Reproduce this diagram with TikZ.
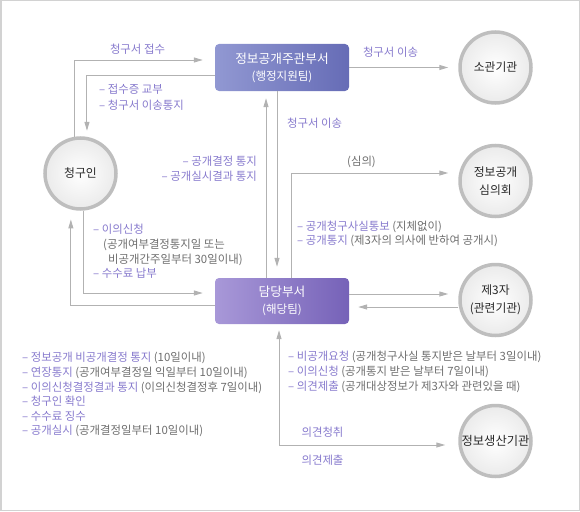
\documentclass[tikz,border=0pt]{standalone}
\usepackage{fontspec}
\setmainfont{Noto Sans CJK KR}
\usepackage{tikz}
\usetikzlibrary{arrows.meta,positioning,calc}
\definecolor{linegray}{RGB}{178,178,178}
\definecolor{labpurple}{RGB}{135,122,205}
\definecolor{labgray}{RGB}{110,110,110}
\definecolor{ringgray}{RGB}{190,190,190}
\definecolor{framegray}{RGB}{210,210,210}
\definecolor{mgrleft}{RGB}{145,152,210}
\definecolor{mgrright}{RGB}{102,108,182}
\definecolor{deptleft}{RGB}{168,152,216}
\definecolor{deptright}{RGB}{118,98,184}
\definecolor{nodetext}{RGB}{40,40,40}
\newcommand{\hlg}[1]{\textcolor{labgray}{#1}}

\begin{document}
\begin{tikzpicture}[
  x=1pt,y=-1pt,
  office/.style={rectangle,rounded corners=4pt,minimum width=134pt,minimum height=47pt,
                 align=center,text=white,font=\fontsize{12.7}{17}\selectfont},
  party/.style={circle,draw=ringgray,line width=3.5pt,minimum size=71pt,inner sep=0pt,
                inner color=white,outer color=gray!16,align=center,text=nodetext,
                font=\fontsize{11.8}{17.6}\selectfont},
  arrow/.style={-{Triangle[length=9pt,width=5pt]},linegray,line width=1pt},
  biarrow/.style={{Triangle[length=9pt,width=5pt]}-{Triangle[length=9pt,width=5pt]},linegray,line width=1pt},
  lab/.style={font=\fontsize{11.4}{14.6}\selectfont,inner sep=0pt,align=left,text=labpurple},
]
\useasboundingbox (0,0) rectangle (580,511);
\draw[framegray,line width=1.5pt] (0.75,0.75) rectangle (579.25,510.25);

% offices
\node[office,left color=mgrleft,right color=mgrright] (mgr) at (282,67.5)
  {정보공개주관부서\\{\fontsize{11.5}{17}\selectfont(행정지원팀)}};
\node[office,left color=deptleft,right color=deptright,minimum height=46pt] (dept) at (282,301)
  {담당부서\\{\fontsize{11.5}{17}\selectfont(해당팀)}};

% parties
\node[party] (req)   at (80.5,173.5) {청구인};
\node[party] (org)   at (495.5,67.5) {소관기관};
\node[party] (cmte)  at (495.5,181)  {정보공개\\심의회};
\node[party] (third) at (495.5,300)  {제3자\\(관련기관)};
\node[party,font=\fontsize{12.3}{17}\selectfont] (prod) at (495.5,441) {정보생산기관};

% connectors
\draw[arrow,shorten >=12pt] (req.100) |- ([yshift=7.5pt]mgr.west);
\draw[arrow,shorten >=6pt]  ([yshift=-7.5pt]mgr.west) -| (req.80);
\draw[arrow,shorten >=10pt] (mgr.east) -- (org.west);
\draw[arrow,shorten >=7pt]  ([xshift=-16pt]dept.north) -- ([xshift=-16pt]mgr.south);
\draw[arrow,shorten >=11pt] ([xshift=-5pt]mgr.south) -- ([xshift=-5pt]dept.north);
\draw[arrow,shorten >=10pt] ([xshift=9pt]dept.north) |- ([yshift=8pt]cmte.west);
\draw[arrow,shorten >=10pt] ([yshift=7pt]dept.east) -- ([yshift=6pt]third.west);
\draw[arrow,shorten >=9pt]  ([yshift=-7pt]third.west) -- ([yshift=-6pt]dept.east);
\draw[arrow,shorten >=12pt] (req.275) |- ([yshift=8pt]dept.west);
\draw[arrow,shorten >=10pt] ([yshift=-4pt]dept.west) -| (req.255);
\draw[biarrow,shorten <=6pt,shorten >=13pt] ([xshift=-3pt]dept.south) |- ([yshift=-4pt]prod.west);

% labels
\node[lab] (lbrecv) at (137.5,49) {청구서 접수};
\node[lab,anchor=west,font=\fontsize{11.4}{15.7}\selectfont] (lbissue) at (99,97)
  {– 접수증 교부\\– 청구서 이송통지};
\node[lab] (lbxfer) at (390.5,52) {청구서 이송};
\node[lab,anchor=west] (lbxferdown) at (287,123) {청구서 이송};
\node[lab,anchor=east,align=right] (lbnotice) at (257,169)
  {– 공개결정 통지\\– 공개실시결과 통지};
\node[lab,text=labgray] (lbreview) at (361.5,162) {(심의)};
\node[lab,anchor=west] (lbthird) at (297,234)
  {– 공개청구사실통보 \hlg{(지체없이)}\\– 공개통지 \hlg{(제3자의 의사에 반하여 공개시)}};
\node[lab,anchor=west] (lbobject) at (93,251.5)
  {– 이의신청\\\hspace*{10pt}\hlg{(공개여부결정통지일 또는}\\\hspace*{15pt}\hlg{비공개간주일부터 30일이내)}\\– 수수료 납부};
\node[lab,anchor=west] (lbdept) at (22,394.7)
  {– 정보공개 비공개결정 통지 \hlg{(10일이내)}\\
   – 연장통지 \hlg{(공개여부결정일 익일부터 10일이내)}\\
   – 이의신청결정결과 통지 \hlg{(이의신청결정후 7일이내)}\\
   – 청구인 확인\\
   – 수수료 징수\\
   – 공개실시 \hlg{(공개결정일부터 10일이내)}};
\node[lab,anchor=west,font=\fontsize{11.4}{15}\selectfont] (lbthirdreq) at (288,371.7)
  {– 비공개요청 \hlg{(공개청구사실 통지받은 날부터 3일이내)}\\
   – 이의신청 \hlg{(공개통지 받은 날부터 7일이내)}\\
   – 의견제출 \hlg{(공개대상정보가 제3자와 관련있을 때)}};
\node[lab] (lbhear)   at (322.5,432) {의견청취};
\node[lab] (lbsubmit) at (322.5,460) {의견제출};

\end{tikzpicture}
\end{document}
